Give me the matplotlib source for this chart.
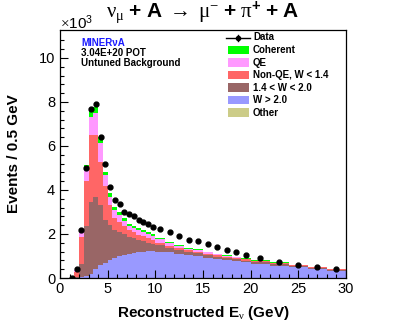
import numpy as np
import matplotlib
matplotlib.use("Agg")
import matplotlib.pyplot as plt
from matplotlib.lines import Line2D
from matplotlib.patches import Rectangle

plt.rcParams["font.family"] = ["Liberation Sans", "DejaVu Sans"]
plt.rcParams["mathtext.fontset"] = "custom"
plt.rcParams["mathtext.rm"] = "Liberation Serif"
plt.rcParams["mathtext.it"] = "Liberation Serif:italic"
plt.rcParams["mathtext.bf"] = "Liberation Sans:bold"
plt.rcParams["mathtext.sf"] = "Liberation Sans"

# bin edges in GeV (variable width)
edges = [0, 0.5, 1, 1.5, 2, 2.5, 3, 3.5, 4, 4.5, 5, 5.5, 6, 6.5, 7, 7.5, 8, 8.5, 9, 9.5, 10,
         11, 12, 13, 14, 15, 16, 17, 18, 19, 20, 22, 24, 26, 28, 30]

# data points (x10^3 events / 0.5 GeV)
data = [np.nan, np.nan, 0.0, 0.41, 2.18, 5.01, 7.67, 7.91, 6.39, 5.18, 4.12, 3.55, 3.35, 3.02,
        2.91, 2.82, 2.64, 2.53, 2.45, 2.33,
        2.21, 2.07, 1.91, 1.73, 1.69, 1.55, 1.42, 1.27, 1.20, 1.03,
        0.90, 0.74, 0.60, 0.50, 0.42]

# stacked MC components, bottom to top
other = [0, 0, 0, 0, 0.02, 0.02, 0.02, 0.02, 0.02, 0.02, 0.02, 0.02, 0.02, 0.02, 0.02, 0.02,
         0.02, 0.02, 0.02, 0.02, 0.02, 0.02, 0.02, 0.02, 0.02, 0.02, 0.02, 0.02, 0.02, 0.02,
         0.02, 0.02, 0.02, 0.02, 0.02]
w_gt20 = [0, 0, 0, 0, 0.01, 0.08, 0.18, 0.40, 0.56, 0.68, 0.78, 0.88, 0.96, 1.02, 1.07, 1.11,
          1.14, 1.17, 1.19, 1.20, 1.18, 1.14, 1.08, 1.03, 0.97, 0.91, 0.85, 0.79, 0.74, 0.69,
          0.62, 0.54, 0.46, 0.39, 0.32]
w_14_20 = [0, 0, 0, 0.03, 0.59, 2.25, 3.25, 3.28, 2.72, 1.95, 1.60, 1.30, 1.12, 0.94, 0.79, 0.67,
           0.56, 0.48, 0.40, 0.34, 0.28, 0.20, 0.17, 0.15, 0.13, 0.11, 0.10, 0.09, 0.09, 0.08,
           0.07, 0.07, 0.05, 0.04, 0.04]
nonqe = [0, 0, 0, 0.26, 1.24, 2.05, 3.05, 2.78, 1.97, 1.52, 0.92, 0.51, 0.46, 0.38, 0.31, 0.28,
         0.24, 0.23, 0.20, 0.18, 0.12, 0.10, 0.09, 0.08, 0.08, 0.07, 0.06, 0.06, 0.06, 0.06,
         0.06, 0.04, 0.04, 0.03, 0.02]
qe = [0, 0, 0, 0.06, 0.27, 0.50, 0.80, 1.00, 0.85, 0.50, 0.38, 0.38, 0.30, 0.25, 0.18, 0.20,
      0.22, 0.20, 0.20, 0.18, 0.15, 0.11, 0.08, 0.05, 0.05, 0.05, 0.04, 0.04, 0.03, 0.03,
      0.02, 0.02, 0.02, 0.01, 0.01]
coherent = [0, 0, 0, 0, 0.05, 0.24, 0.32, 0.30, 0.27, 0.16, 0.15, 0.15, 0.14, 0.11, 0.10, 0.09,
            0.09, 0.08, 0.08, 0.08, 0.07, 0.07, 0.06, 0.05, 0.05, 0.04, 0.04, 0.03, 0.03, 0.02,
            0.02, 0.02, 0.01, 0.01, 0.01]

labels = ["Coherent", "QE", "Non-QE, W < 1.4", "1.4 < W < 2.0", "W > 2.0", "Other"]
colors = ["#00ff00", "#ff99ff", "#ff6666", "#996666", "#9999ff", "#cccc88"]
stack = [other, w_gt20, w_14_20, nonqe, qe, coherent]
stack_colors = colors[::-1]

W, H = 407, 328
fig = plt.figure(figsize=(W / 100, H / 100), dpi=100)
ax = fig.add_axes([60 / W, 50 / H, 286 / W, 248 / H])

edges = np.array(edges)
bottom = np.zeros(len(edges) - 1)
for vals, col in zip(stack, stack_colors):
    vals = np.array(vals)
    ax.stairs(bottom + vals, edges, baseline=bottom, fill=True, color=col, lw=0)
    bottom = bottom + vals

centers = 0.5 * (edges[:-1] + edges[1:])
ax.plot(centers, data, "o", color="black", ms=3.5, zorder=5)

ax.set_xlim(0, 30)
ax.set_ylim(0, 11.27)
ax.set_xticks([0, 5, 10, 15, 20, 25, 30])
ax.set_xticks(np.arange(0, 31, 1), minor=True)
ax.set_yticks([0, 2, 4, 6, 8, 10])
ax.set_yticks(np.arange(0, 11.2, 0.4), minor=True)
ax.tick_params(which="both", direction="in", top=False, right=False, labelsize=10.5, width=0.8)
ax.tick_params(which="major", length=6)
ax.tick_params(which="minor", length=3)
ax.tick_params(axis="x", pad=3)
for s in ax.spines.values():
    s.set_linewidth(0.9)

ax.set_xlabel(r"Reconstructed E$_{\mathrm{\nu}}$ (GeV)", fontsize=11, fontweight="bold", labelpad=6)
ax.set_ylabel("Events / 0.5 GeV", fontsize=11, fontweight="bold", labelpad=13)


def px(x, y):
    return x / W, 1 - y / H


fig.text(*px(203, 13), r"$\mathrm{\nu}_{\mathrm{\mu}}\ \mathbf{+\ A}\ \rightarrow\ \mathrm{\mu}^{\mathrm{-}}\ \mathbf{+}\ \mathrm{\pi}^{\mathbf{+}}\ \mathbf{+\ A}$",
         fontsize=15, ha="center", va="center")
fig.text(*px(60, 23), r"$\times\mathsf{10^{3}}$", fontsize=11, ha="left", va="center")

fig.text(*px(81, 43), "MINERνA", fontsize=7, fontweight="bold", color="#1a1aff", va="center")
fig.text(*px(81, 53), "3.04E+20 POT", fontsize=7, fontweight="bold", va="center")
fig.text(*px(81, 63), "Untuned Background", fontsize=7, fontweight="bold", va="center")

# legend
fig.add_artist(Line2D([226 / W, 250 / W], [1 - 37.5 / H] * 2, color="black", lw=1))
fig.add_artist(Line2D([238 / W], [1 - 37.5 / H], color="black", marker="o", ms=3, lw=0))
fig.add_artist(Line2D([238 / W, 238 / W], [1 - 34.5 / H, 1 - 40.5 / H], color="black", lw=1))
fig.text(*px(253, 37.5), "Data", fontsize=7, fontweight="bold", va="center")
for i, (lab, col) in enumerate(zip(labels, colors)):
    yc = 50 + i * 12.5
    x0, y0 = px(228, yc + 4.2)
    fig.add_artist(Rectangle((x0, y0), 21 / W, 8.4 / H, color=col, lw=0))
    fig.text(*px(253, yc), lab, fontsize=7, fontweight="bold", va="center")

fig.savefig("out.png", dpi=100)
